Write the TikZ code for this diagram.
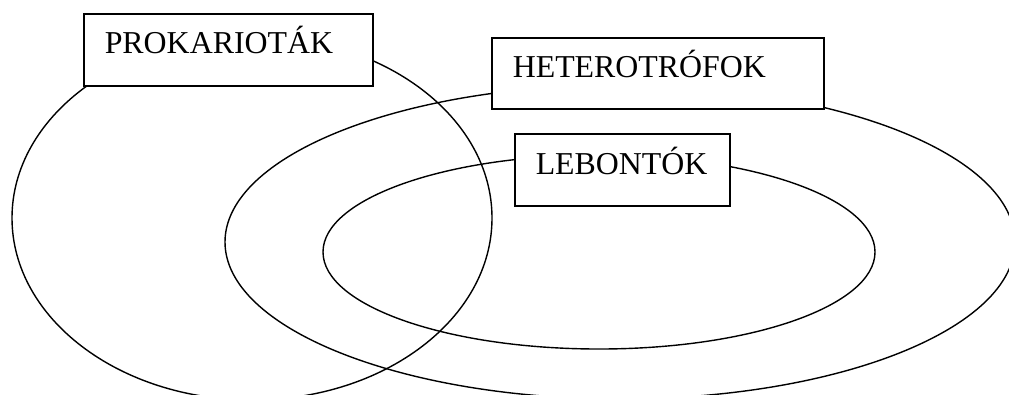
\documentclass[tikz,border=0pt]{standalone}
\usepackage{fontspec}
\setmainfont{Liberation Serif}
\begin{document}
\begin{tikzpicture}[x=0.75pt,y=-0.75pt,
  ring/.style={line width=1.05pt},
  box/.style={draw, line width=1.15pt, fill=white, anchor=north west,
    inner ysep=0pt, inner xsep=15.75pt, align=left,
    font=\fontsize{23.9}{28}\selectfont}]
\useasboundingbox (0,0) rectangle (1009,394);
\clip (0,0) rectangle (1009,394);
\draw[ring] (252,218) ellipse [x radius=180pt, y radius=136.5pt];
\draw[ring] (620,242) ellipse [x radius=296.25pt, y radius=117.75pt];
\draw[ring] (599,252) ellipse [x radius=207pt, y radius=72.75pt];
\node[box, text width=185.25pt, text height=30pt, text depth=24pt] (prok) at (83,13) {PROKARIOTÁK};
\node[box, text width=217.5pt, text height=30pt, text depth=23.25pt] (het) at (491,37) {HETEROTRÓFOK};
\node[box, text width=129.75pt, text height=30.75pt, text depth=23.25pt] (leb) at (514,133) {LEBONTÓK};
\end{tikzpicture}
\end{document}
